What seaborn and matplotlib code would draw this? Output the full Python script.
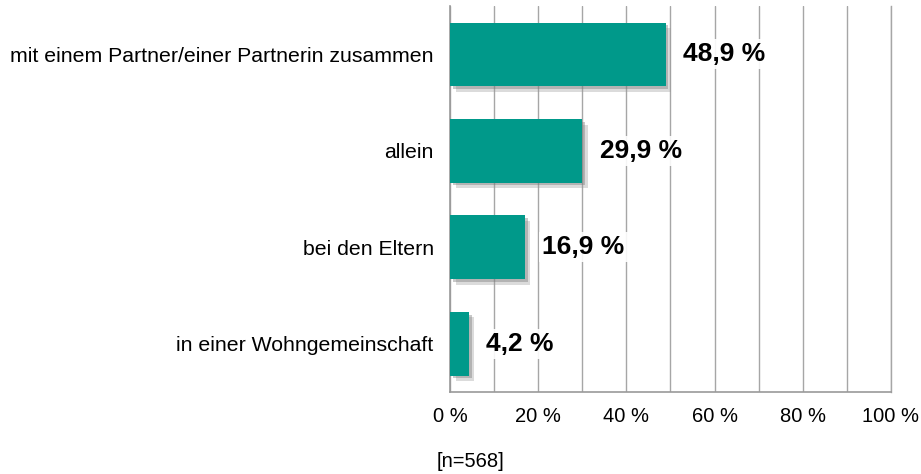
import matplotlib
matplotlib.use("Agg")
import matplotlib.pyplot as plt
import matplotlib.patheffects as pe
import pandas as pd
import seaborn as sns

categories = [
    "mit einem Partner/einer Partnerin zusammen",
    "allein",
    "bei den Eltern",
    "in einer Wohngemeinschaft",
]
values = [48.9, 29.9, 16.9, 4.2]
value_labels = ["48,9 %", "29,9 %", "16,9 %", "4,2 %"]
x_ticks = [0, 20, 40, 60, 80, 100]
note = "[n=568]"

df = pd.DataFrame({"cat": categories, "val": values})

sns.set_style("white")
plt.rcParams["font.family"] = ["Liberation Sans", "DejaVu Sans"]
plt.rcParams["text.color"] = "black"
plt.rcParams["xtick.color"] = "black"
plt.rcParams["ytick.color"] = "black"

fig = plt.figure(figsize=(9.21, 4.74), dpi=100)
ax = fig.add_axes([0.489, 0.173, 0.478, 0.814])

sns.barplot(data=df, x="val", y="cat", orient="h", color="#00998A",
            saturation=1, width=0.66, ax=ax, zorder=3, edgecolor="none", linewidth=0)

# soft gray drop shadow like the original
for bar in ax.patches:
    bar.set_path_effects([
        pe.SimplePatchShadow(offset=(4, -4), shadow_rgbFace="#999999", alpha=0.35),
        pe.SimplePatchShadow(offset=(2, -2), shadow_rgbFace="#777777", alpha=0.4),
        pe.Normal(),
    ])

for i, (v, lab) in enumerate(zip(values, value_labels)):
    ax.text(v + 4, i, lab, va="center", ha="left", fontsize=19, fontweight="bold",
            color="black", zorder=4,
            bbox=dict(facecolor="white", edgecolor="none", pad=2, alpha=0.9))

ax.set_xlim(0, 100)
ax.set_xticks(range(0, 101, 10))
ax.set_xticklabels([f"{t} %" if t in x_ticks else "" for t in range(0, 101, 10)])
ax.xaxis.grid(True, color="#a6a6a6", linewidth=1, zorder=0)
ax.set_axisbelow(True)
ax.tick_params(axis="x", length=0, pad=11, labelsize=14.5)
ax.tick_params(axis="y", length=0, pad=12, labelsize=15.3)
ax.set_xlabel("")
ax.set_ylabel("")
ax.spines["top"].set_visible(False)
ax.spines["right"].set_visible(True)
ax.spines["right"].set_color("#a6a6a6")
ax.spines["right"].set_linewidth(1)
for side in ["left", "bottom"]:
    ax.spines[side].set_color("#999999")
    ax.spines[side].set_linewidth(1.2)

fig.text(0.474, 0.014, note, ha="left", fontsize=14.5)

fig.savefig("out.png", dpi=100)
